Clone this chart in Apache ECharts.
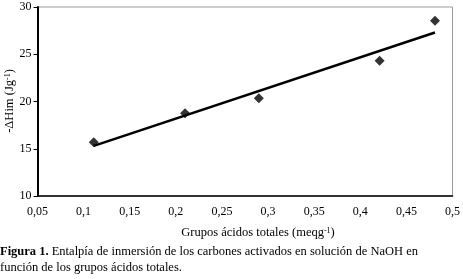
<!DOCTYPE html>
<html>
<head>
<meta charset="utf-8">
<script src="https://cdn.jsdelivr.net/npm/echarts@6/dist/echarts.min.js"></script>
<style>
  html, body { margin: 0; padding: 0; background: #fff; }
  #chart { width: 463px; height: 279px; }
</style>
</head>
<body>
<div id="chart"></div>
<script>
// measured points (grupos acidos totales, -dHim)
const acidGroups = [0.111, 0.21, 0.29, 0.421, 0.481];
const enthalpy = [15.7, 18.75, 20.35, 24.3, 28.55];

// trend line end points
const trendX = [0.111, 0.481];
const trendY = [15.3, 27.3];

const xTickLabels = ['0,05', '0,1', '0,15', '0,2', '0,25', '0,3', '0,35', '0,4', '0,45', '0,5'];
const yTicks = [10, 15, 20, 25, 30];

const font = '"Liberation Serif", "DejaVu Serif", serif';

let chart = echarts.init(document.getElementById('chart'), null, {renderer: 'canvas'});

let option = {
    animation: false,
    backgroundColor: '#fff',
    grid: {
        left: 37.5,
        right: 9.5,
        top: 7,
        bottom: 83,
        show: true,
        borderColor: '#999',
        borderWidth: 1
    },
    xAxis: {
        type: 'value',
        min: 0.05,
        max: 0.5,
        interval: 0.05,
        axisLine: {onZero: false, lineStyle: {color: '#000', width: 1.5}},
        axisTick: {show: false},
        splitLine: {show: false},
        axisLabel: {
            color: '#000',
            fontFamily: font,
            fontSize: 12,
            margin: 10,
            formatter: v => xTickLabels[Math.round((v - 0.05) / 0.05)]
        }
    },
    yAxis: {
        type: 'value',
        min: yTicks[0],
        max: yTicks[yTicks.length - 1],
        interval: 5,
        axisLine: {show: true, lineStyle: {color: '#000', width: 2}},
        axisTick: {show: true, length: 4, lineStyle: {color: '#000'}},
        splitLine: {show: false},
        axisLabel: {color: '#000', fontFamily: font, fontSize: 12, margin: 6}
    },
    graphic: [
        {
            type: 'text',
            x: 10, y: 101,
            rotation: Math.PI / 2,
            style: {
                text: '-ΔHim (Jg{s|-1})',
                rich: {s: {fontSize: 8, verticalAlign: 'top', fontFamily: font, fill: '#000', padding: [0, 0, 5, 0]}},
                font: '12.5px ' + font,
                fill: '#000',
                align: 'center',
                verticalAlign: 'middle'
            }
        },
        {
            type: 'text',
            x: 258, y: 233,
            style: {
                text: 'Grupos ácidos totales (meqg{s|-1})',
                rich: {s: {fontSize: 8, fontFamily: font, fill: '#000', padding: [0, 0, 5, 0]}},
                font: '12.5px ' + font,
                fill: '#000',
                align: 'center',
                verticalAlign: 'middle'
            }
        },
        {
            type: 'text',
            x: 0, y: 252,
            style: {
                text: '{b|Figura 1.} Entalpía de inmersión de los carbones activados en solución de NaOH en',
                rich: {b: {fontWeight: 'bold', fontFamily: font, fontSize: 12.5, fill: '#000'}},
                font: '12.5px ' + font,
                fill: '#000',
                verticalAlign: 'middle'
            }
        },
        {
            type: 'text',
            x: 0, y: 268,
            style: {
                text: 'función de los grupos ácidos totales.',
                font: '12.5px ' + font,
                fill: '#000',
                verticalAlign: 'middle'
            }
        }
    ],
    series: [
        {
            name: 'trend',
            type: 'line',
            data: trendX.map((x, i) => [x, trendY[i]]),
            symbol: 'none',
            lineStyle: {color: '#000', width: 2.5},
            z: 2
        },
        {
            name: 'data',
            type: 'scatter',
            data: acidGroups.map((x, i) => [x, enthalpy[i]]),
            symbol: 'diamond',
            symbolSize: 10,
            itemStyle: {color: '#000'},
            z: 3
        }
    ]
};

chart.setOption(option);
</script>
</body>
</html>
